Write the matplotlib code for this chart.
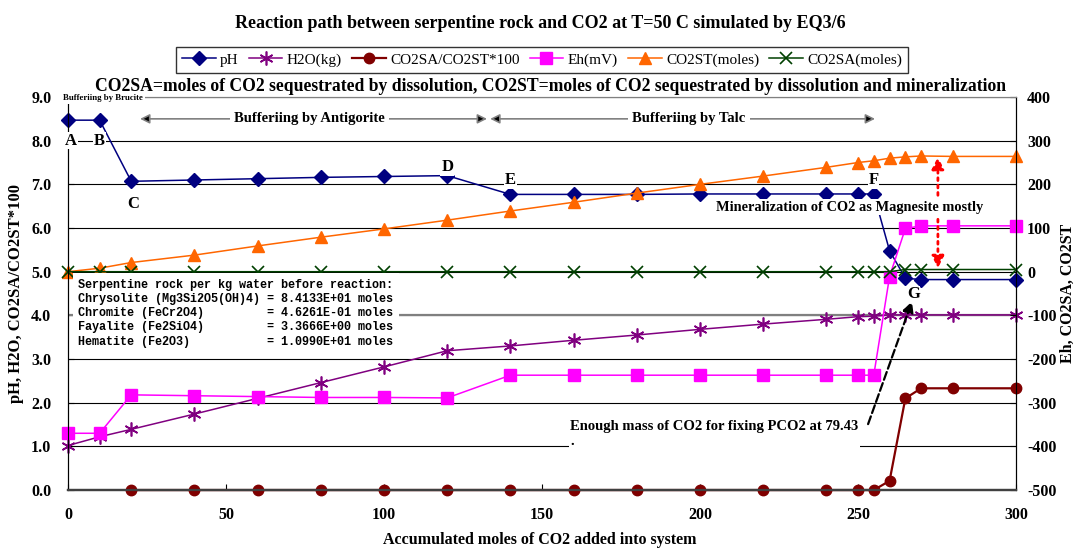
import matplotlib
matplotlib.use('Agg')
import matplotlib.pyplot as plt

plt.rcParams['font.family'] = ['Liberation Serif', 'DejaVu Serif']
plt.rcParams['axes.unicode_minus'] = False

# data
x_all = [0, 10, 20, 40, 60, 80, 100, 120, 140, 160, 180, 200, 220, 240, 250, 255, 260, 265, 270, 280, 300]
ph = [8.47, 8.47, 7.07, 7.10, 7.13, 7.16, 7.18, 7.20, 6.77, 6.77, 6.77, 6.78, 6.78, 6.78, 6.78, 6.78,
      5.48, 4.85, 4.82, 4.82, 4.82]
h2o = [1.02, 1.22, 1.39, 1.74, 2.10, 2.46, 2.82, 3.19, 3.30, 3.43, 3.55, 3.68, 3.80, 3.91, 3.97, 3.98,
       4.01, 4.01, 4.01, 4.01, 4.01]
x_ratio = [20, 40, 60, 80, 100, 120, 140, 160, 180, 200, 220, 240, 250, 255, 260, 265, 270, 280, 300]
ratio = [0.0, 0.0, 0.0, 0.0, 0.0, 0.0, 0.0, 0.0, 0.0, 0.0, 0.0, 0.0, 0.0, 0.0, 0.21, 2.10, 2.33, 2.33, 2.33]
eh = [-370, -370, -282, -284, -286, -288, -288, -289, -237, -237, -237, -237, -237, -237, -237, -237,
      -11, 99, 105, 105, 105]
co2st = [0, 8, 21, 38, 59, 79, 98, 118, 139, 159, 180, 200, 219, 239, 250, 254, 260, 263, 265, 264, 264]
co2sa = [0, 0, 0, 0, 0, 0, 0, 0, 0, 0, 0, 0, 0, 0, 0, 0, 0, 5, 5, 5, 5]

box_text = ("Serpentine rock per kg water before reaction:\n"
            "Chrysolite (Mg3Si2O5(OH)4) = 8.4133E+01 moles\n"
            "Chromite (FeCr2O4)         = 4.6261E-01 moles\n"
            "Fayalite (Fe2SiO4)         = 3.3666E+00 moles\n"
            "Hematite (Fe2O3)           = 1.0990E+01 moles")

fig = plt.figure(figsize=(10.8, 5.5), dpi=100)
ax = fig.add_axes([0.063, 0.109, 0.8777, 0.7146])
ax2 = ax.twinx()

ax.plot(x_all, ph, color='#000080', marker='D', ms=7, lw=1.1, label='pH', clip_on=False, zorder=4)
ax.plot(x_all, h2o, color='#800080', marker=(6, 2, 0), ms=10, mew=1.2, lw=1.1, label='H2O(kg)', clip_on=False, zorder=4)
ax.plot(x_ratio, ratio, color='#800000', marker='o', ms=7.5, lw=1.6, label='CO2SA/CO2ST*100', clip_on=False, zorder=4)
ax2.plot(x_all, eh, color='#FF00FF', marker='s', ms=8, lw=1.1, label='Eh(mV)', clip_on=False)
ax2.plot(x_all, co2st, color='#FF6600', marker='^', ms=8.5, lw=1.1, label='CO2ST(moles)', clip_on=False)
ax2.plot(x_all, co2sa, color='#004000', marker='x', ms=8, mew=1.2, lw=1.1, label='CO2SA(moles)', clip_on=False)

ax.set_xlim(0, 300)
ax.set_ylim(0, 9)
ax2.set_ylim(-500, 400)
ax.set_xticks(range(0, 301, 50))
ax.set_yticks(range(0, 10))
ax.set_yticklabels([f'{v:.1f}' for v in range(0, 10)])
ax2.set_yticks(range(-500, 401, 100))

for a in (ax, ax2):
    a.tick_params(direction='in', length=4, labelsize=11.5)
    for lab in a.get_xticklabels() + a.get_yticklabels():
        lab.set_fontweight('bold')
ax.tick_params(axis='x', pad=12)
ax.tick_params(axis='y', pad=12)
ax2.tick_params(axis='y', pad=8)

ax.grid(axis='y', color='black', lw=0.8)
ax.set_axisbelow(True)
ax.axhline(4.0, color='#808080', lw=1.6, zorder=1)
for a in (ax, ax2):
    a.spines['top'].set_color('#808080')
    a.spines['top'].set_linewidth(0.8)
    a.spines['bottom'].set_color('#404040')
    a.spines['bottom'].set_linewidth(1.6)

# axis titles placed in figure coordinates
fig.text(0.5, 0.018, 'Accumulated moles of CO2 added into system', ha='center', va='center',
         fontsize=11.5, fontweight='bold')
fig.text(0.015, 0.466, 'pH, H2O, CO2SA/CO2ST*100', ha='center', va='center', rotation=90,
         fontsize=12, fontweight='bold')
fig.text(0.9885, 0.466, 'Eh, CO2SA, CO2ST', ha='center', va='center', rotation=90,
         fontsize=11.5, fontweight='bold')

fig.text(0.5, 0.958, 'Reaction path between serpentine rock and CO2 at T=50 C simulated by EQ3/6',
         ha='center', va='center', fontsize=13, fontweight='bold')
fig.text(0.51, 0.8436, 'CO2SA=moles of CO2 sequestrated by dissolution, '
         'CO2ST=moles of CO2 sequestrated by dissolution and mineralization',
         ha='center', va='center', fontsize=12.7, fontweight='bold')

handles = ax.get_lines()[:3] + ax2.get_lines()
leg = fig.legend(handles=handles, labels=[h.get_label() for h in handles], loc='center',
                 bbox_to_anchor=(0.502, 0.891), ncol=6, fontsize=11, frameon=True,
                 fancybox=False, edgecolor='black', handlelength=2.2, handletextpad=0.3,
                 columnspacing=0.65, borderpad=0.4)
leg.get_frame().set_linewidth(1.0)

# annotations drawn on the top axes using the left-axis data coordinates
T = ax.transData
wb = dict(facecolor='white', edgecolor='none', pad=1.5)
ax2.text(-1.5, 8.97, 'Bufferiing by Brucite', transform=T, fontsize=6.3, fontweight='bold',
         ha='left', va='center', bbox=wb, zorder=6)
for lbl, lx, ly in [('A', 1, 8.0), ('B', 10, 8.0), ('C', 20.5, 6.55), ('D', 120, 7.4),
                    ('E', 140, 7.1), ('F', 255, 7.1), ('G', 267.5, 4.48)]:
    ax2.text(lx, ly, lbl, transform=T, fontsize=12, fontweight='bold', ha='center', va='center',
             bbox=dict(facecolor='white', edgecolor='none', pad=0.5), zorder=6)

arrow_kw = dict(arrowstyle='<|-|>', color='#808080', fc='black', lw=1.2, mutation_scale=14, shrinkA=0, shrinkB=0)
ax2.annotate('', xy=(22.8, 8.5), xytext=(132.6, 8.5), xycoords=T, textcoords=T, arrowprops=arrow_kw)
ax2.annotate('', xy=(133.6, 8.5), xytext=(255.4, 8.5), xycoords=T, textcoords=T, arrowprops=arrow_kw)
ax2.text(76.5, 8.5, 'Bufferiing by Antigorite', transform=T, fontsize=10.5, fontweight='bold',
         ha='center', va='center', bbox=dict(facecolor='white', edgecolor='none', pad=3), zorder=6)
ax2.text(196.5, 8.5, 'Bufferiing by Talc', transform=T, fontsize=10.5, fontweight='bold',
         ha='center', va='center', bbox=dict(facecolor='white', edgecolor='none', pad=3), zorder=6)

red_kw = dict(arrowstyle='-|>', color='red', lw=2, ls=':', mutation_scale=18, shrinkA=0, shrinkB=0)
ax2.annotate('', xy=(275.3, 7.63), xytext=(275.3, 6.75), xycoords=T, textcoords=T, arrowprops=red_kw)
ax2.annotate('', xy=(275.3, 5.08), xytext=(275.3, 6.2), xycoords=T, textcoords=T, arrowprops=red_kw)
ax2.text(247.5, 6.48, 'Mineralization of CO2 as Magnesite mostly', transform=T, fontsize=10.4,
         fontweight='bold', ha='center', va='center', bbox=dict(facecolor='white', edgecolor='none', pad=1),
         zorder=6)

ax2.annotate('', xy=(267.1, 4.32), xytext=(253.2, 1.51), xycoords=T, textcoords=T,
             arrowprops=dict(arrowstyle='-|>', color='black', lw=1.6, ls='--', mutation_scale=16,
                             shrinkA=0, shrinkB=0))
ax2.text(159.0, 1.28, 'Enough mass of CO2 for fixing PCO2 at 79.43\n.', transform=T, fontsize=10.5,
         fontweight='bold', ha='left', va='center', linespacing=1.2,
         bbox=dict(facecolor='white', edgecolor='none', pad=1), zorder=6)

ax2.text(3.2, 4.05, box_text, transform=T, fontsize=8.5, family='Liberation Mono', fontweight='bold',
         ha='left', va='center', linespacing=1.25,
         bbox=dict(facecolor='white', edgecolor='none', pad=4), zorder=6)

fig.savefig('out.png', dpi=100)
